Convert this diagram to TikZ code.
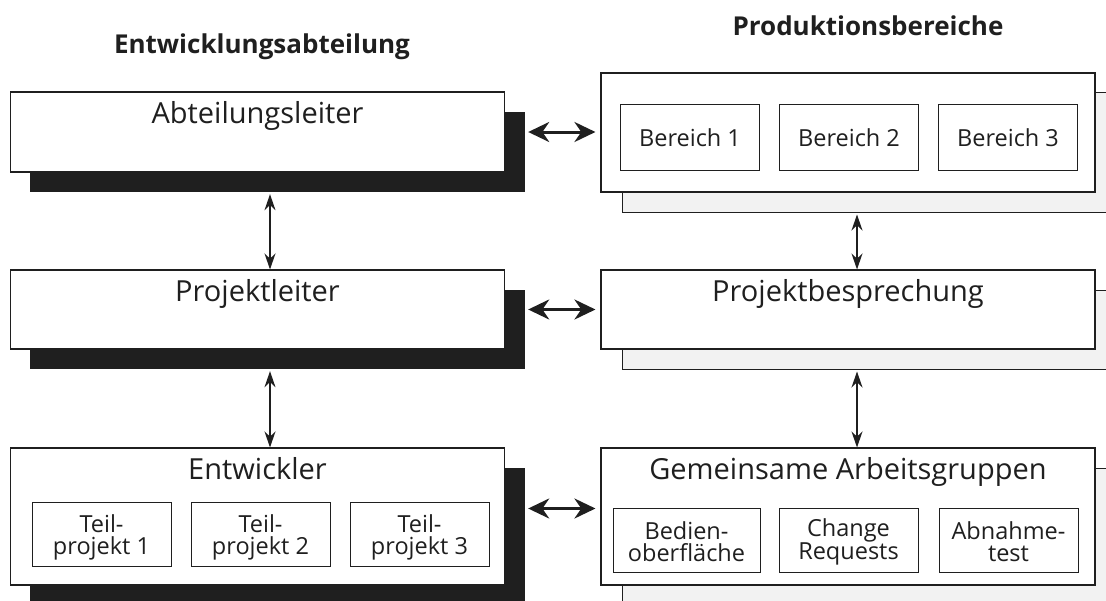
\documentclass[tikz,border=0pt]{standalone}
\usepackage{fontspec}
\setmainfont{Open Sans}
\usetikzlibrary{arrows.meta, positioning}
\definecolor{ink}{gray}{0.12}

\begin{document}
\begin{tikzpicture}[x=1pt, y=-1pt, color=ink,
  box/.style={draw, line width=1.1pt, fill=white, inner sep=0pt, minimum width=494pt},
  darkshadow/.style={fill=ink, inner sep=0pt, minimum width=495pt},
  lightshadow/.style={draw, line width=1pt, fill=black!5, inner sep=0pt, minimum width=518pt},
  part/.style={draw, line width=1pt, fill=white, inner sep=0pt, minimum width=139pt, minimum height=64pt},
  boxtext/.style={font=\fontsize{29}{32}\selectfont, anchor=base},
  parttext/.style={font=\fontsize{23.5}{22}\selectfont, align=center},
  head/.style={font=\bfseries\fontsize{26}{30}\selectfont, anchor=base},
  link/.style={line width=1.2pt, {Stealth[length=16pt,width=11pt]}-{Stealth[length=16pt,width=11pt]}},
  wide/.style={line width=3pt, {Stealth[length=21pt,width=20pt]}-{Stealth[length=21pt,width=20pt]}}
]
  \useasboundingbox (0,0) rectangle (1106,600);

  \node[head] (dev) at (262,53) {Entwicklungsabteilung};
  \node[head] (prod) at (868,35) {Produktionsbereiche};

  % Entwicklung
  \node[darkshadow, minimum height=80pt] (abt-s) at (277.5,152) {};
  \node[box, minimum height=80pt] (abt) at (257.5,132) {};
  \node[boxtext, yshift=-32pt] (abt-t) at (abt.north) {Abteilungsleiter};

  \node[darkshadow, minimum height=79pt] (pl-s) at (277.5,329.5) {};
  \node[box, minimum height=79pt] (pl) at (257.5,309.5) {};
  \node[boxtext, yshift=-32pt] (pl-t) at (pl.north) {Projektleiter};

  \node[darkshadow, minimum height=172pt] (ent-s) at (277.5,554) {};
  \node[box, minimum height=137pt] (ent) at (257.5,516.5) {};
  \node[boxtext, yshift=-32pt] (ent-t) at (ent.north) {Entwickler};

  \node[part] (tp1) at (101.5,534) {};
  \node[part, right=19pt of tp1] (tp2) {};
  \node[part, right=19pt of tp2] (tp3) {};
  \foreach \i in {1,2,3}
    \node[parttext, yshift=-3pt] at (tp\i) {Teil-\\projekt \i};

  % Produktion
  \node[lightshadow, minimum height=120pt] (ber-s) at (881,152) {};
  \node[box, minimum height=119pt] (ber) at (848,132.5) {};
  \node[part, minimum height=66pt] (ber1) at (690,137) {};
  \node[part, minimum height=66pt, right=19pt of ber1] (ber2) {};
  \node[part, minimum height=66pt, right=19pt of ber2] (ber3) {};
  \foreach \i in {1,2,3}
    \node[parttext, anchor=base, yshift=-9pt] at (ber\i.center) {Bereich \i};

  \node[lightshadow, minimum height=79pt] (pb-s) at (881,329.5) {};
  \node[box, minimum height=79pt] (pb) at (848,309.5) {};
  \node[boxtext, yshift=-32pt] (pb-t) at (pb.north) {Projektbesprechung};

  \node[lightshadow, minimum height=172pt] (gem-s) at (881,554) {};
  \node[box, minimum height=137pt] (gem) at (848,516.5) {};
  \node[boxtext, yshift=-32pt] (gem-t) at (gem.north) {Gemeinsame Arbeitsgruppen};

  \node[part, minimum width=147pt] (ag1) at (686.5,540) {};
  \node[part, right=18pt of ag1] (ag2) {};
  \node[part, right=20pt of ag2] (ag3) {};
  \node[parttext, yshift=-2pt] at (ag1) {Bedien-\\oberfläche};
  \node[parttext, yshift=-2pt] at (ag2) {Change\\Requests};
  \node[parttext, yshift=-2pt] at (ag3) {Abnahme-\\test};

  % Verbindungen
  \coordinate (lx) at (270,0);
  \coordinate (rx) at (857,0);
  \draw[link, shorten <=2pt] (abt-s.south -| lx) -- (pl.north -| lx);
  \draw[link, shorten <=2pt] (pl-s.south -| lx) -- (ent.north -| lx);
  \draw[link, shorten <=2pt] (ber-s.south -| rx) -- (pb.north -| rx);
  \draw[link, shorten <=2pt] (pb-s.south -| rx) -- (gem.north -| rx);

  \draw[wide, shorten <=3pt, shorten >=5pt] (abt-s.east |- abt.east) -- (ber.west |- abt.east);
  \draw[wide, shorten <=3pt, shorten >=5pt] (pl-s.east |- pl.east) -- (pb.west);
  \draw[wide, shorten <=3pt, shorten >=5pt] ([yshift=8pt]ent-s.east |- gem.west) -- ([yshift=8pt]gem.west);
\end{tikzpicture}
\end{document}
